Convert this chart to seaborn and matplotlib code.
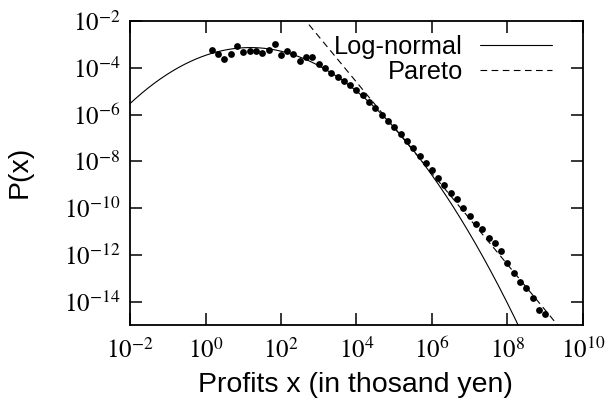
import numpy as np
import pandas as pd
import matplotlib
matplotlib.use('Agg')
import matplotlib.pyplot as plt
import seaborn as sns

# binned profit distribution (log10 of profit, log10 of P(x))
profit_log10 = [0.17, 0.33, 0.50, 0.67, 0.83, 1.00, 1.17, 1.33, 1.50, 1.67,
                1.83, 2.00, 2.17, 2.33, 2.50, 2.67, 2.83, 3.00, 3.17, 3.33,
                3.50, 3.67, 3.83, 4.00, 4.17, 4.33, 4.50, 4.67, 4.83, 5.00,
                5.17, 5.33, 5.50, 5.67, 5.83, 6.00, 6.17, 6.33, 6.50, 6.67,
                6.83, 7.00, 7.17, 7.33, 7.50, 7.67, 7.83, 8.00, 8.17, 8.33,
                8.50, 8.67, 8.83, 9.00]
prob_log10 = [-3.26, -3.41, -3.62, -3.41, -3.09, -3.34, -3.27, -3.29, -3.38, -3.24,
              -2.98, -3.47, -3.27, -3.41, -3.70, -3.52, -3.52, -3.85, -3.99, -4.22,
              -4.39, -4.56, -4.74, -4.93, -5.17, -5.46, -5.74, -6.03, -6.26, -6.54,
              -6.83, -7.12, -7.44, -7.76, -8.07, -8.39, -8.72, -9.03, -9.34, -9.63,
              -10.00, -10.32, -10.70, -10.90, -11.29, -11.49, -11.82, -12.34, -12.77, -13.14,
              -13.41, -13.86, -14.34, -14.53]

# fitted models
lognormal_mu = 7.62      # mean of ln x
lognormal_sigma = 2.21
lognormal_amp = 0.718
pareto_alpha = 1.95      # P(x) ~ x^-alpha
pareto_ref_x = 10 ** 2.66
pareto_ref_p = 1e-2

x_ticks = [1e-2, 1e0, 1e2, 1e4, 1e6, 1e8, 1e10]
x_tick_labels = ['$10^{-2}$', '$10^{0}$', '$10^{2}$', '$10^{4}$', '$10^{6}$', '$10^{8}$', '$10^{10}$']
y_ticks = [1e-14, 1e-12, 1e-10, 1e-8, 1e-6, 1e-4, 1e-2]
y_tick_labels = ['$10^{-14}$', '$10^{-12}$', '$10^{-10}$', '$10^{-8}$', '$10^{-6}$', '$10^{-4}$', '$10^{-2}$']

sns.set_style('ticks', {'axes.edgecolor': 'black', 'xtick.color': 'black', 'ytick.color': 'black',
                        'text.color': 'black', 'axes.labelcolor': 'black'})
plt.rcParams['font.family'] = ['Liberation Sans', 'DejaVu Sans']
plt.rcParams['mathtext.fontset'] = 'stix'

data = pd.DataFrame({'x': 10 ** np.array(profit_log10), 'p': 10 ** np.array(prob_log10)})

xs = np.logspace(-2, 10, 600)
lognormal = lognormal_amp / (xs * lognormal_sigma * np.sqrt(2 * np.pi)) * \
    np.exp(-(np.log(xs) - lognormal_mu) ** 2 / (2 * lognormal_sigma ** 2))
pareto = pareto_ref_p * (xs / pareto_ref_x) ** (-pareto_alpha)

fig = plt.figure(figsize=(6.05, 4.03), dpi=100)
ax = fig.add_axes([0.2149, 0.1935, 0.9636 - 0.2149, 0.9479 - 0.1935])

sns.lineplot(x=xs, y=lognormal, ax=ax, color='black', lw=0.8, label='Log-normal', sort=False)
sns.lineplot(x=xs, y=pareto, ax=ax, color='black', lw=0.8, linestyle=(0, (6, 4)), label='Pareto', sort=False)
sns.scatterplot(data=data, x='x', y='p', ax=ax, color='black', s=24, linewidth=0, zorder=3, legend=False)

ax.set_xscale('log')
ax.set_yscale('log')
ax.set_xlim(1e-2, 1e10)
ax.set_ylim(1e-15, 1e-2)
ax.set_xticks(x_ticks)
ax.set_xticklabels(x_tick_labels)
ax.set_yticks(y_ticks)
ax.set_yticklabels(y_tick_labels)
ax.minorticks_off()
ax.tick_params(direction='in', length=8.5, width=1.1, labelsize=18, pad=7,
               top=True, right=True, colors='black')
ax.tick_params(axis='x', pad=9)
for side in ax.spines.values():
    side.set_linewidth(1.3)
    side.set_color('black')
    side.set_visible(True)

ax.set_xlabel('Profits x (in thosand yen)', fontsize=20.5)
ax.set_ylabel('P(x)', fontsize=20.5)
ax.xaxis.set_label_coords(0.498, -0.155)
ax.yaxis.set_label_coords(-0.215, 0.503)

ax.legend(loc='upper right', bbox_to_anchor=(0.932, 0.955), frameon=False, fontsize=18.3,
          markerfirst=False, handlelength=2.85, handletextpad=0.65, labelspacing=0.05,
          borderpad=0, borderaxespad=0)

plt.savefig('out.png', dpi=100)
